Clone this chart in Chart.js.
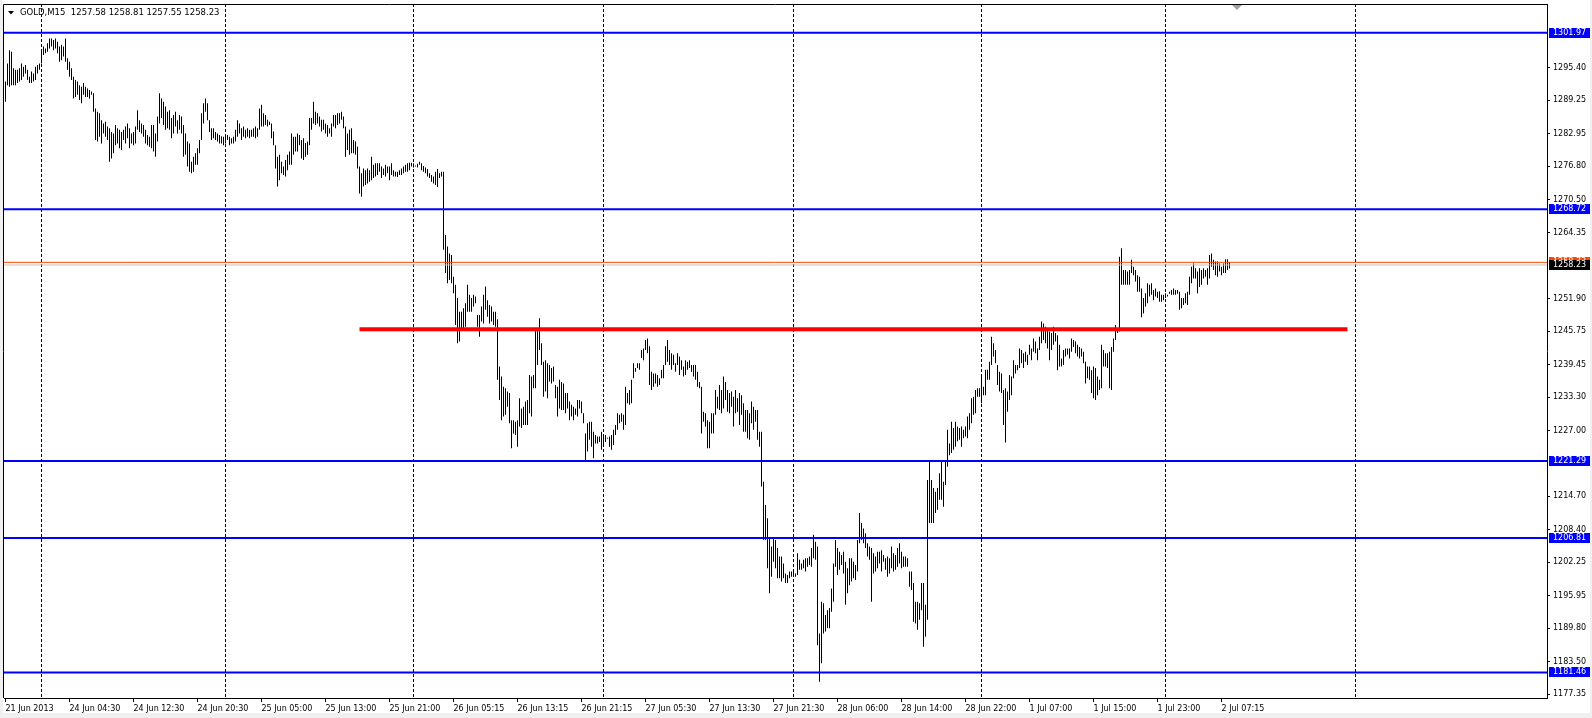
<!DOCTYPE html>
<html>
<head>
<meta charset="utf-8">
<title>GOLD,M15</title>
<script src="https://cdn.jsdelivr.net/npm/chart.js@4.4.1/dist/chart.umd.min.js"></script>
<style>
  html, body { margin: 0; padding: 0; background: #fff; overflow: hidden; }
  canvas { display: block; }
</style>
</head>
<body>
<canvas id="chart" width="1592" height="718"></canvas>
<script>
// GOLD M15, 21 Jun - 2 Jul 2013, one high / low pair per bar
const highs = [
  1292.8, 1296.2, 1298.7, 1298.4, 1295.3, 1295.0, 1295.0, 1295.3, 1296.2, 1295.6,
  1295.9, 1295.0, 1293.7, 1294.7, 1294.3, 1295.6, 1295.9, 1296.2, 1298.7, 1299.4,
  1299.0, 1300.0, 1300.9, 1300.9, 1300.6, 1300.9, 1300.3, 1299.4, 1299.7, 1299.4,
  1300.9, 1297.2, 1296.5, 1295.3, 1293.7, 1293.1, 1292.8, 1292.1, 1291.8, 1292.5,
  1291.8, 1291.5, 1291.2, 1290.9, 1290.6, 1287.7, 1287.1, 1286.8, 1285.5, 1284.9,
  1285.2, 1284.3, 1284.0, 1283.3, 1283.0, 1284.6, 1284.0, 1283.7, 1283.3, 1283.7,
  1284.3, 1284.9, 1284.0, 1283.0, 1283.3, 1284.3, 1287.4, 1285.5, 1284.9, 1284.6,
  1283.7, 1282.7, 1282.4, 1284.6, 1284.6, 1283.0, 1286.2, 1290.6, 1289.6, 1289.0,
  1288.1, 1287.1, 1287.4, 1285.9, 1286.5, 1287.1, 1285.5, 1286.5, 1286.2, 1284.6,
  1283.0, 1281.5, 1281.1, 1277.7, 1278.6, 1279.3, 1280.2, 1281.8, 1286.8, 1288.7,
  1289.6, 1288.7, 1285.5, 1284.0, 1284.0, 1283.3, 1283.0, 1282.7, 1282.5, 1282.4,
  1282.4, 1282.7, 1282.4, 1282.1, 1282.4, 1283.7, 1285.5, 1284.9, 1284.0, 1284.3,
  1283.7, 1284.0, 1283.7, 1283.7, 1284.0, 1284.3, 1284.0, 1287.7, 1288.4, 1286.8,
  1286.5, 1285.6, 1285.2, 1284.9, 1283.4, 1280.8, 1278.6, 1279.0, 1277.7, 1276.8,
  1278.0, 1279.0, 1279.6, 1283.0, 1282.4, 1282.4, 1283.0, 1282.7, 1281.8, 1282.1,
  1281.2, 1281.5, 1285.9, 1285.9, 1289.0, 1287.1, 1286.8, 1286.2, 1285.6, 1285.6,
  1284.9, 1284.6, 1284.0, 1284.9, 1286.5, 1286.5, 1286.8, 1286.8, 1287.1, 1286.2,
  1284.3, 1283.0, 1283.7, 1284.0, 1281.8, 1281.5, 1280.5, 1276.8, 1275.5, 1276.4,
  1276.1, 1276.4, 1276.1, 1278.6, 1277.1, 1277.4, 1277.4, 1277.4, 1276.8, 1276.4,
  1277.1, 1276.8, 1276.8, 1277.4, 1276.1, 1275.8, 1275.8, 1276.1, 1276.4, 1276.8,
  1277.1, 1277.4, 1277.5, 1277.5, 1277.4, 1276.9, 1277.3, 1277.7, 1277.4, 1276.9,
  1276.6, 1276.3, 1275.5, 1275.2, 1274.9, 1275.8, 1276.3, 1275.5, 1275.8, 1275.8,
  1263.9, 1261.7, 1260.4, 1260.1, 1256.0, 1254.5, 1252.0, 1249.4, 1249.4, 1250.1,
  1251.0, 1254.5, 1252.6, 1252.0, 1252.6, 1252.3, 1248.8, 1248.8, 1250.4, 1252.6,
  1254.2, 1251.6, 1250.7, 1250.4, 1249.4, 1249.4, 1248.0, 1239.1, 1237.2, 1235.3,
  1235.0, 1234.4, 1234.1, 1229.0, 1229.0, 1228.7, 1229.0, 1233.1, 1231.2, 1231.5,
  1232.5, 1232.8, 1237.5, 1237.2, 1237.5, 1246.3, 1246.3, 1248.2, 1243.5, 1240.0,
  1240.3, 1239.7, 1239.4, 1238.8, 1239.1, 1235.6, 1235.3, 1236.6, 1236.2, 1235.9,
  1234.1, 1234.1, 1232.5, 1231.9, 1231.5, 1231.2, 1232.8, 1232.8, 1232.5, 1230.3,
  1226.5, 1228.4, 1228.7, 1228.7, 1226.8, 1226.2, 1225.9, 1225.9, 1226.8, 1225.9,
  1226.2, 1225.7, 1225.9, 1226.2, 1227.2, 1228.1, 1230.3, 1230.0, 1230.3, 1230.0,
  1235.3, 1234.1, 1234.7, 1236.6, 1239.7, 1238.8, 1239.7, 1239.7, 1242.2, 1242.5,
  1244.1, 1244.4, 1242.9, 1238.1, 1237.8, 1237.8, 1237.5, 1236.9, 1238.5, 1239.4,
  1242.9, 1244.1, 1242.2, 1241.6, 1241.3, 1239.7, 1241.6, 1241.0, 1240.3, 1239.1,
  1240.3, 1240.0, 1240.3, 1239.4, 1239.4, 1239.4, 1238.1, 1236.2, 1235.3, 1230.6,
  1230.3, 1229.0, 1228.7, 1230.3, 1230.3, 1234.7, 1233.4, 1235.6, 1234.7, 1237.2,
  1236.2, 1234.7, 1234.1, 1234.4, 1233.4, 1234.7, 1233.1, 1234.1, 1233.7, 1232.2,
  1230.9, 1230.9, 1230.3, 1232.5, 1231.5, 1230.9, 1230.9, 1226.8, 1226.8, 1217.4,
  1213.0, 1210.5, 1206.7, 1205.2, 1206.7, 1206.4, 1204.9, 1203.3, 1203.3, 1202.0,
  1200.1, 1199.8, 1200.5, 1200.5, 1200.5, 1200.1, 1203.9, 1202.7, 1202.0, 1202.7,
  1203.0, 1203.0, 1203.3, 1204.9, 1207.4, 1206.1, 1205.2, 1188.8, 1194.8, 1194.5,
  1192.3, 1193.2, 1193.6, 1197.3, 1202.0, 1206.4, 1204.9, 1204.2, 1203.6, 1204.2,
  1202.3, 1201.1, 1203.0, 1203.0, 1202.3, 1201.7, 1206.4, 1211.5, 1209.6, 1208.6,
  1207.7, 1205.8, 1205.2, 1204.9, 1203.9, 1203.3, 1204.2, 1204.2, 1204.5, 1203.6,
  1203.0, 1203.3, 1203.0, 1205.2, 1203.9, 1203.6, 1204.9, 1205.8, 1204.2, 1203.3,
  1203.3, 1203.0, 1200.5, 1200.5, 1198.3, 1194.8, 1194.8, 1194.5, 1198.3, 1198.3,
  1194.2, 1217.7, 1221.2, 1217.7, 1216.2, 1215.5, 1216.2, 1219.0, 1221.5, 1217.4,
  1221.5, 1227.2, 1224.6, 1228.7, 1227.5, 1228.7, 1227.8, 1227.5, 1227.8, 1227.2,
  1227.8, 1229.7, 1230.3, 1233.1, 1233.4, 1234.7, 1235.0, 1235.0, 1237.5, 1235.3,
  1238.5, 1238.5, 1240.0, 1244.7, 1243.5, 1242.2, 1239.4, 1238.1, 1237.8, 1234.7,
  1235.0, 1234.4, 1237.5, 1237.2, 1240.3, 1239.4, 1239.4, 1242.5, 1242.2, 1241.6,
  1241.9, 1241.3, 1243.2, 1242.5, 1244.4, 1243.8, 1242.5, 1244.7, 1247.6, 1247.2,
  1246.6, 1246.0, 1245.7, 1245.4, 1246.6, 1245.4, 1245.0, 1243.2, 1240.6, 1242.2,
  1242.5, 1242.5, 1242.5, 1244.4, 1244.1, 1243.8, 1243.2, 1242.8, 1242.5, 1241.9,
  1240.0, 1239.1, 1239.1, 1238.4, 1239.1, 1238.8, 1237.2, 1236.6, 1243.2, 1242.2,
  1241.6, 1241.6, 1241.9, 1242.8, 1244.4, 1246.9, 1246.0, 1259.8, 1261.4, 1257.3,
  1257.3, 1257.0, 1257.3, 1259.2, 1257.9, 1257.3, 1256.3, 1256.0, 1253.8, 1252.0,
  1252.9, 1254.8, 1254.5, 1254.8, 1253.5, 1253.8, 1253.2, 1253.3, 1252.6, 1252.6,
  1252.9, 1252.6, 1253.2, 1253.5, 1253.8, 1253.5, 1253.5, 1253.2, 1252.0, 1252.0,
  1252.9, 1253.2, 1256.0, 1257.9, 1258.5, 1257.6, 1257.0, 1257.6, 1257.3, 1257.6,
  1257.3, 1257.6, 1260.1, 1260.4, 1259.2, 1258.9, 1258.9, 1258.5, 1257.9, 1258.5,
  1259.3, 1259.3, 1258.81,
]
const lows = [
  1289.0, 1292.1, 1291.8, 1292.1, 1292.1, 1292.1, 1292.5, 1292.8, 1293.1, 1293.7,
  1294.3, 1293.1, 1292.5, 1292.5, 1292.8, 1293.1, 1294.3, 1295.0, 1296.2, 1297.8,
  1298.1, 1298.4, 1299.0, 1299.4, 1298.7, 1299.0, 1298.1, 1296.5, 1296.8, 1297.5,
  1296.5, 1295.0, 1293.7, 1293.1, 1289.6, 1289.9, 1290.3, 1289.3, 1288.7, 1290.3,
  1289.9, 1289.9, 1289.6, 1290.3, 1287.1, 1281.8, 1281.5, 1282.4, 1281.1, 1283.0,
  1282.4, 1281.8, 1277.7, 1278.3, 1279.3, 1280.8, 1281.1, 1280.2, 1279.9, 1281.8,
  1281.1, 1282.1, 1280.2, 1281.1, 1280.8, 1281.1, 1283.7, 1283.3, 1283.0, 1282.4,
  1281.1, 1280.8, 1280.5, 1280.2, 1279.6, 1278.6, 1281.5, 1284.9, 1285.9, 1284.6,
  1283.7, 1284.0, 1283.7, 1282.1, 1283.0, 1284.3, 1283.0, 1283.7, 1283.0, 1278.6,
  1279.0, 1276.8, 1275.8, 1275.5, 1275.8, 1277.1, 1277.1, 1279.3, 1281.8, 1284.9,
  1287.1, 1285.5, 1283.3, 1281.8, 1282.1, 1281.8, 1281.5, 1281.1, 1281.1, 1280.8,
  1281.1, 1281.8, 1280.8, 1281.1, 1281.1, 1281.5, 1282.4, 1283.0, 1281.8, 1282.4,
  1282.1, 1282.4, 1282.1, 1282.4, 1282.4, 1282.1, 1282.4, 1283.7, 1284.3, 1284.3,
  1284.6, 1284.3, 1284.6, 1282.1, 1280.8, 1276.4, 1273.0, 1274.2, 1275.5, 1275.2,
  1274.9, 1276.1, 1277.1, 1277.1, 1279.0, 1279.6, 1279.6, 1280.8, 1278.3, 1278.0,
  1278.6, 1279.0, 1280.8, 1283.7, 1284.9, 1284.6, 1284.9, 1284.3, 1283.4, 1283.7,
  1283.0, 1282.4, 1283.0, 1282.4, 1284.3, 1284.0, 1284.6, 1284.9, 1285.6, 1284.0,
  1278.6, 1279.9, 1279.0, 1279.3, 1279.3, 1279.0, 1276.4, 1271.7, 1271.1, 1273.0,
  1273.3, 1273.6, 1273.9, 1274.2, 1274.6, 1274.9, 1275.2, 1275.8, 1274.6, 1275.2,
  1274.9, 1275.5, 1274.2, 1275.2, 1274.9, 1274.9, 1274.8, 1275.2, 1275.2, 1275.5,
  1275.8, 1275.8, 1276.1, 1276.8, 1276.6, 1276.8, 1276.6, 1277.1, 1276.1, 1275.8,
  1275.5, 1274.9, 1274.6, 1273.9, 1273.6, 1273.3, 1272.9, 1274.6, 1274.9, 1261.1,
  1256.7, 1254.8, 1255.4, 1254.8, 1252.9, 1246.9, 1243.5, 1243.8, 1246.0, 1246.0,
  1246.6, 1249.4, 1249.4, 1249.4, 1250.4, 1251.0, 1246.6, 1244.7, 1247.6, 1247.2,
  1249.8, 1248.5, 1247.2, 1247.6, 1246.9, 1246.6, 1236.6, 1232.8, 1229.0, 1229.7,
  1230.0, 1231.5, 1228.4, 1223.7, 1226.5, 1226.2, 1224.0, 1227.8, 1227.5, 1228.1,
  1228.1, 1228.1, 1230.3, 1229.7, 1235.0, 1235.0, 1239.4, 1242.2, 1239.4, 1233.4,
  1234.4, 1233.1, 1236.3, 1235.9, 1236.3, 1233.1, 1229.7, 1231.2, 1230.9, 1230.9,
  1230.3, 1231.2, 1229.0, 1229.7, 1229.0, 1230.0, 1229.7, 1231.2, 1230.3, 1228.4,
  1221.4, 1223.1, 1225.3, 1224.0, 1221.8, 1224.6, 1224.6, 1224.9, 1223.4, 1224.0,
  1224.9, 1225.5, 1224.0, 1223.4, 1224.3, 1226.2, 1227.2, 1228.4, 1228.7, 1227.2,
  1228.1, 1232.2, 1231.9, 1232.2, 1236.9, 1238.1, 1238.8, 1238.5, 1240.7, 1240.3,
  1242.2, 1241.6, 1235.6, 1234.7, 1235.3, 1235.9, 1235.3, 1235.6, 1236.9, 1236.9,
  1239.4, 1240.0, 1239.4, 1238.5, 1239.4, 1238.1, 1239.4, 1237.5, 1238.5, 1237.2,
  1237.5, 1238.5, 1238.8, 1238.1, 1237.2, 1236.6, 1235.3, 1235.0, 1226.5, 1228.7,
  1227.8, 1223.7, 1223.7, 1226.5, 1226.5, 1230.0, 1231.2, 1230.9, 1230.3, 1231.2,
  1232.8, 1230.6, 1230.3, 1231.5, 1227.8, 1230.3, 1230.6, 1228.1, 1230.0, 1226.8,
  1226.8, 1225.6, 1225.3, 1228.4, 1227.2, 1228.7, 1225.3, 1224.0, 1216.5, 1206.4,
  1206.4, 1201.1, 1196.4, 1199.5, 1202.3, 1201.1, 1199.2, 1199.2, 1198.6, 1199.2,
  1198.3, 1198.3, 1199.2, 1199.5, 1199.5, 1199.5, 1199.8, 1200.8, 1200.8, 1201.1,
  1200.5, 1201.4, 1201.7, 1201.4, 1203.0, 1202.7, 1186.6, 1179.7, 1183.2, 1188.8,
  1189.2, 1189.8, 1189.8, 1192.9, 1194.8, 1201.4, 1199.8, 1200.8, 1201.7, 1200.1,
  1194.2, 1196.4, 1197.9, 1198.6, 1199.2, 1198.9, 1200.5, 1205.8, 1206.4, 1205.8,
  1204.9, 1203.3, 1202.7, 1194.8, 1200.1, 1200.5, 1201.1, 1202.0, 1200.5, 1202.3,
  1200.8, 1199.5, 1200.1, 1201.1, 1200.5, 1200.8, 1201.4, 1202.0, 1201.1, 1201.4,
  1201.4, 1201.4, 1197.6, 1197.0, 1191.0, 1190.7, 1189.5, 1191.4, 1193.2, 1186.3,
  1188.2, 1191.4, 1209.6, 1209.6, 1209.6, 1211.5, 1212.1, 1214.0, 1214.0, 1212.7,
  1216.8, 1220.2, 1222.4, 1222.8, 1223.4, 1224.0, 1225.0, 1225.3, 1224.0, 1225.6,
  1225.9, 1225.6, 1227.2, 1228.4, 1230.0, 1230.3, 1233.4, 1233.4, 1232.2, 1233.7,
  1233.7, 1236.6, 1236.6, 1239.4, 1241.0, 1239.7, 1235.6, 1234.4, 1234.1, 1228.1,
  1224.8, 1230.6, 1232.8, 1233.7, 1236.9, 1237.8, 1238.4, 1238.8, 1239.7, 1238.8,
  1240.0, 1239.4, 1241.3, 1240.3, 1241.9, 1241.6, 1240.3, 1242.2, 1243.5, 1244.1,
  1243.5, 1242.5, 1240.3, 1242.2, 1243.2, 1243.8, 1238.4, 1239.1, 1239.1, 1239.4,
  1241.0, 1241.3, 1240.6, 1241.9, 1242.8, 1241.6, 1241.0, 1240.6, 1241.0, 1239.7,
  1235.9, 1236.9, 1236.6, 1234.1, 1233.1, 1232.8, 1233.7, 1234.7, 1235.0, 1239.1,
  1239.1, 1238.8, 1235.0, 1234.7, 1241.9, 1244.1, 1245.4, 1245.7, 1254.5, 1254.5,
  1254.5, 1254.5, 1254.5, 1256.7, 1256.3, 1255.1, 1253.2, 1253.2, 1248.4, 1249.1,
  1250.4, 1251.0, 1252.3, 1252.6, 1251.6, 1252.3, 1252.0, 1251.3, 1251.3, 1251.6,
  1252.0, 1252.3, 1252.8, 1252.6, 1252.6, 1252.6, 1252.8, 1249.8, 1250.1, 1250.7,
  1251.0, 1250.7, 1252.6, 1254.8, 1255.7, 1255.7, 1252.9, 1254.1, 1254.5, 1255.7,
  1256.0, 1254.5, 1255.7, 1257.9, 1257.3, 1256.3, 1256.0, 1257.0, 1256.3, 1256.7,
  1256.7, 1257.3, 1257.55,
]

const symbolName = "GOLD,M15"
const lastOHLC = [1257.58, 1258.81, 1257.55, 1258.23]

// horizontal levels drawn on the chart
const levels = [1301.97, 1268.72, 1221.29, 1206.81, 1181.46]
const bidPrice = 1258.23
const askPrice = 1258.73
const supportPrice = 1246.1
const supportFrom = 177
const supportTo = 671

// bar index of each day separator
const daySeparators = [18, 110, 204, 299, 394, 488, 580, 675]

const xTickBars = [0, 32, 64, 96, 128, 160, 192, 224, 256, 288, 320, 352, 384, 416, 448, 480, 512, 544, 576, 608]
const xTickLabels = [
  "21 Jun 2013", "24 Jun 04:30", "24 Jun 12:30", "24 Jun 20:30", "25 Jun 05:00",
  "25 Jun 13:00", "25 Jun 21:00", "26 Jun 05:15", "26 Jun 13:15", "26 Jun 21:15",
  "27 Jun 05:30", "27 Jun 13:30", "27 Jun 21:30", "28 Jun 06:00", "28 Jun 14:00",
  "28 Jun 22:00", "1 Jul 07:00", "1 Jul 15:00", "1 Jul 23:00", "2 Jul 07:15",
]
const yTickValues = [
  1295.40, 1289.25, 1282.95, 1276.80, 1270.50, 1264.35, 1251.90, 1245.75, 1239.45,
  1233.30, 1227.00, 1214.70, 1208.40, 1202.25, 1195.95, 1189.80, 1183.50, 1177.35,
]

const X_MIN = -0.75
const X_MAX = 770.75
const Y_MIN = 1176.65
const Y_MAX = 1307.40

const FONT = "DejaVu Sans"
Chart.defaults.font.family = FONT
Chart.defaults.font.size = 8
Chart.defaults.color = "#000"

const flatLine = (price, from, to, color, width) => ({
  type: "line",
  data: [{ x: from, y: price }, { x: to, y: price }],
  borderColor: color,
  borderWidth: width,
  pointRadius: 0,
  order: 1,
})

// window frame strips and period separators under the bars
const separatorPlugin = {
  id: "separators",
  beforeDraw(chart) {
    const { ctx, width, height } = chart
    ctx.save()
    ctx.fillStyle = "#f0f0f0"
    ctx.fillRect(0, 0, 3, height)
    ctx.fillRect(0, height - 5, width, 5)
    ctx.fillRect(width - 2, 0, 2, height)
    ctx.restore()
  },
  beforeDatasetsDraw(chart) {
    const { ctx, chartArea, scales } = chart
    ctx.save()
    ctx.strokeStyle = "#000"
    ctx.lineWidth = 1
    ctx.setLineDash([3, 2])
    daySeparators.forEach((bar) => {
      const px = Math.floor(scales.x.getPixelForValue(bar)) + 0.5
      ctx.beginPath()
      ctx.moveTo(px, chartArea.top)
      ctx.lineTo(px, chartArea.bottom)
      ctx.stroke()
    })
    ctx.restore()
  },
}

// frame, header line and the price tags on the right scale
const overlayPlugin = {
  id: "overlay",
  afterDraw(chart) {
    const { ctx, chartArea, scales } = chart
    ctx.save()

    ctx.strokeStyle = "#000"
    ctx.lineWidth = 1
    ctx.beginPath()
    ctx.moveTo(chartArea.left - 0.5, chartArea.bottom)
    ctx.lineTo(chartArea.left - 0.5, chartArea.top + 0.5)
    ctx.lineTo(chartArea.right, chartArea.top + 0.5)
    ctx.stroke()

    // shift marker
    ctx.fillStyle = "#a0a0a0"
    ctx.beginPath()
    ctx.moveTo(1232, chartArea.top + 1)
    ctx.lineTo(1242, chartArea.top + 1)
    ctx.lineTo(1237, chartArea.top + 6)
    ctx.closePath()
    ctx.fill()

    // header
    ctx.fillStyle = "#000"
    ctx.beginPath()
    ctx.moveTo(8, 11)
    ctx.lineTo(14, 11)
    ctx.lineTo(11, 14.5)
    ctx.closePath()
    ctx.fill()
    ctx.font = `8.5px "${FONT}"`
    ctx.textBaseline = "middle"
    ctx.textAlign = "left"
    ctx.fillText(`${symbolName}  ${lastOHLC.map((v) => v.toFixed(2)).join(" ")}`, 20, 13)

    // price tags
    const tagLeft = chartArea.right + 2
    const tag = (price, bg, text) => {
      const top = Math.round(scales.y.getPixelForValue(price)) - 5
      ctx.fillStyle = bg
      ctx.fillRect(tagLeft, top, 41, 10)
      ctx.fillStyle = "#fff"
      ctx.font = `8px "${FONT}"`
      ctx.fillText(text, tagLeft + 4, top + 5)
    }
    levels.forEach((v) => tag(v, "#0000ff", v.toFixed(2)))
    tag(askPrice, "#ff4500", askPrice.toFixed(2))
    tag(bidPrice, "#000", bidPrice.toFixed(2))

    ctx.restore()
  },
}

const bars = highs.map((h, i) => ({ x: i, y: [lows[i], h] }))

new Chart(document.getElementById("chart"), {
  type: "bar",
  data: {
    datasets: [
      {
        data: bars,
        backgroundColor: "#000",
        borderWidth: 0,
        barThickness: 1,
        inflateAmount: 0,
        minBarLength: 1,
        grouped: false,
        order: 3,
      },
      flatLine(bidPrice, X_MIN, X_MAX, "#c0c0c0", 1),
      flatLine(askPrice, X_MIN, X_MAX, "#ff4500", 1),
      ...levels.map((v) => flatLine(v, X_MIN, X_MAX, "#0000ff", 2)),
      flatLine(supportPrice, supportFrom, supportTo, "#ff0000", 4),
    ],
  },
  options: {
    responsive: false,
    animation: false,
    events: [],
    devicePixelRatio: 1,
    layout: { padding: { left: 4, top: 4, right: 0, bottom: 0 } },
    plugins: { legend: { display: false }, tooltip: { enabled: false } },
    scales: {
      x: {
        type: "linear",
        min: X_MIN,
        max: X_MAX,
        offset: false,
        grid: { display: true, offset: false, drawOnChartArea: false, drawTicks: true, tickLength: 4, color: "#000" },
        border: { display: true, color: "#000" },
        ticks: {
          autoSkip: false,
          maxRotation: 0,
          align: "start",
          padding: 2,
          callback: (v, i) => xTickLabels[i],
        },
        afterBuildTicks: (scale) => {
          scale.ticks = xTickBars.map((v) => ({ value: v }))
        },
        afterFit: (scale) => {
          scale.height = 20
          scale.paddingLeft = 0
          scale.paddingRight = 0
        },
      },
      y: {
        type: "linear",
        position: "right",
        min: Y_MIN,
        max: Y_MAX,
        grid: { display: true, drawOnChartArea: false, drawTicks: true, tickLength: 3, color: "#000" },
        border: { display: true, color: "#000" },
        ticks: {
          padding: 3,
          callback: (v) => v.toFixed(2),
        },
        afterBuildTicks: (scale) => {
          scale.ticks = yTickValues.map((v) => ({ value: v }))
        },
        afterFit: (scale) => {
          scale.width = 45
          scale.paddingTop = 0
          scale.paddingBottom = 0
        },
      },
    },
  },
  plugins: [separatorPlugin, overlayPlugin],
})
</script>
</body>
</html>
